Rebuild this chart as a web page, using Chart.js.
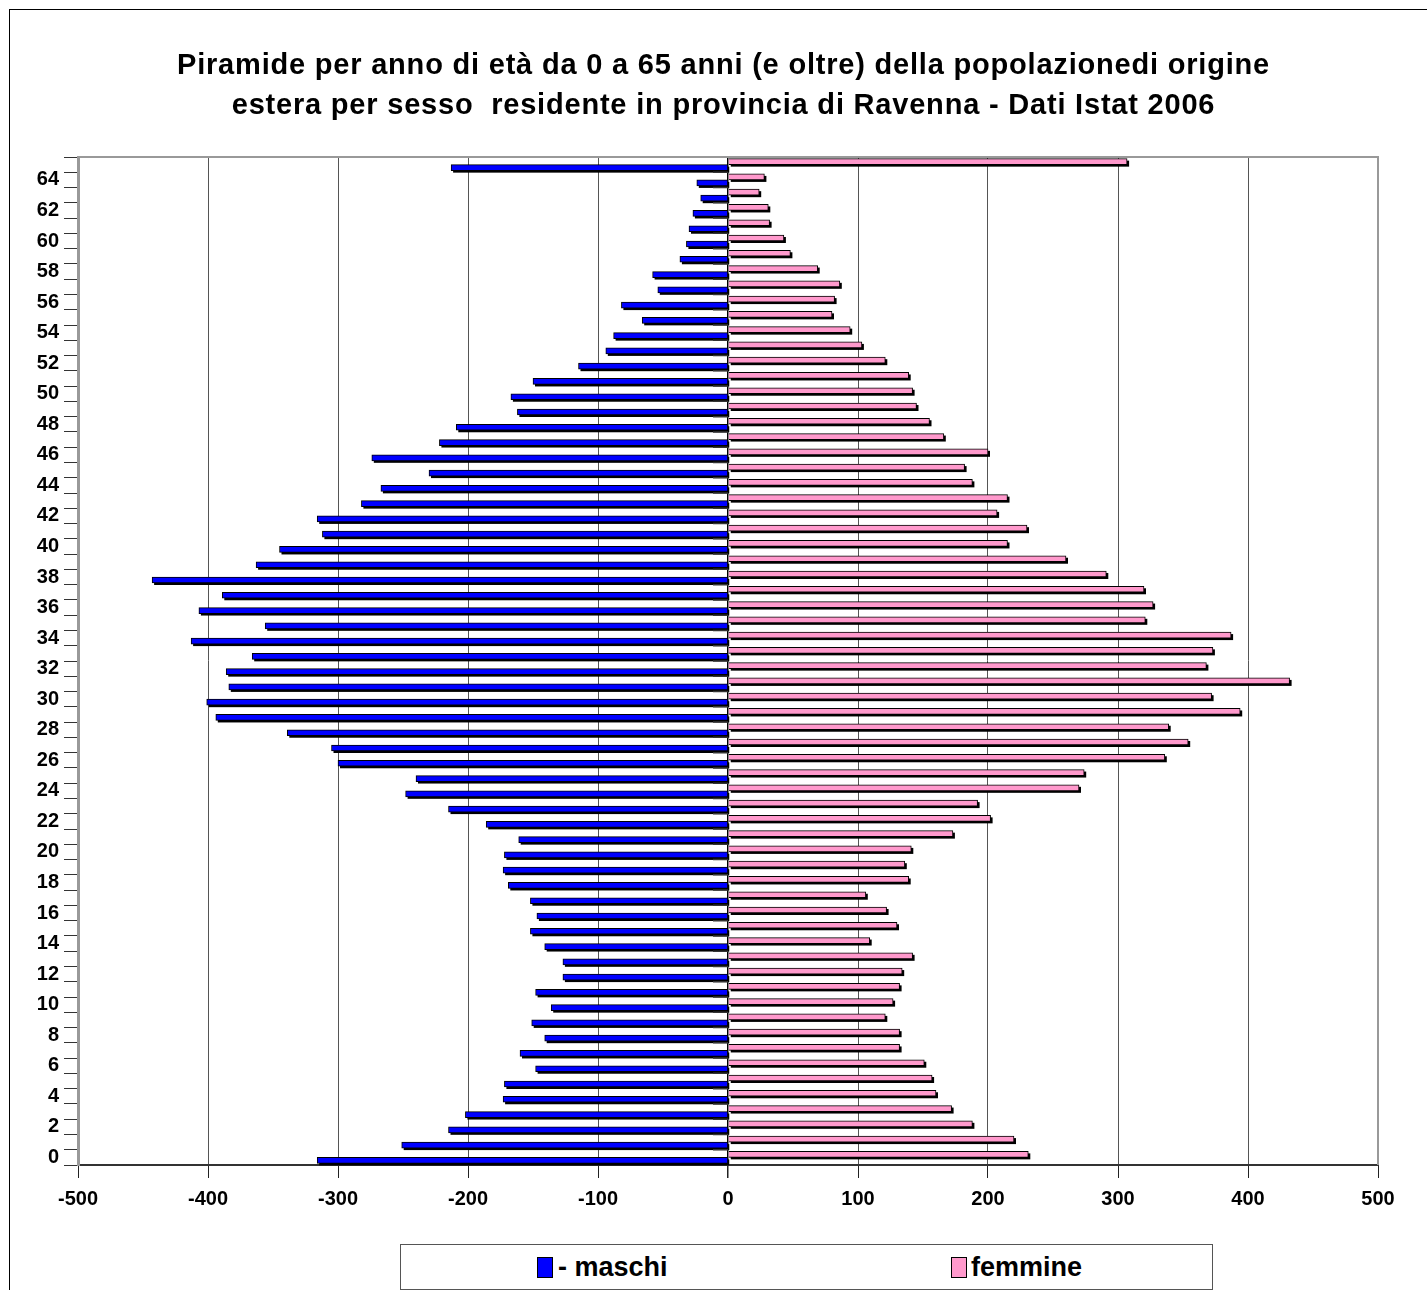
<!DOCTYPE html>
<html lang="it">
<head>
    <meta charset="UTF-8">
    <title>Piramide per età - Ravenna 2006</title>
    <script src="https://cdn.jsdelivr.net/npm/chart.js"></script>
    <style>
        body {
            margin: 0;
            background: #fff;
            font-family: Arial, "Liberation Sans", sans-serif;
        }
        .wrap {
            position: relative;
            width: 1427px;
            height: 1290px;
            overflow: hidden;
        }
        .frame {
            position: absolute;
            left: 9px;
            top: 9px;
            width: 1440px;
            height: 1300px;
            border: 1px solid #000;
        }
        canvas {
            position: absolute;
            left: 0;
            top: 0;
        }
        .legend {
            position: absolute;
            left: 400px;
            top: 1244px;
            width: 811px;
            height: 44px;
            border: 1px solid #555;
            background: #fff;
        }
        .legend .box {
            position: absolute;
            top: 12px;
            width: 14px;
            height: 19px;
            border: 1px solid #000;
        }
        .legend .txt {
            position: absolute;
            top: 0;
            line-height: 44px;
            font-size: 27px;
            font-weight: bold;
            color: #000;
        }
    </style>
</head>
<body>
    <div class="wrap">
        <div class="frame"></div>
        <canvas id="pyramid" width="1427" height="1290"></canvas>
        <div class="legend">
            <div class="box" style="left:136px; background:#0000ff"></div>
            <div class="txt" style="left:157px">- maschi</div>
            <div class="box" style="left:550px; background:#ff99cc"></div>
            <div class="txt" style="left:570px">femmine</div>
        </div>
    </div>

    <script>
        // eta' da 0 a 65 (65 = 65 anni e oltre)
        const ages = [];
        for (let a = 0; a <= 65; a++) ages.push(String(a));

        // stranieri residenti per sesso, un valore per ogni anno di eta'
        const maschi = [
            -316, -251, -215, -202, -173, -172, -148, -160, -141, -151,
            -136, -148, -127, -127, -141, -152, -147, -152, -169, -173,
            -172, -161, -186, -215, -248, -240, -300, -305, -339, -394,
            -401, -384, -386, -366, -413, -356, -407, -389, -443, -363,
            -345, -312, -316, -282, -267, -230, -274, -222, -209, -162,
            -167, -150, -115, -94, -88, -66, -82, -54, -58, -37,
            -32, -30, -27, -21, -24, -213
        ];
        const femmine = [
            231, 220, 188, 172, 160, 157, 151, 132, 132, 121,
            127, 132, 134, 142, 109, 130, 122, 106, 139, 136,
            141, 173, 202, 192, 270, 274, 336, 354, 339, 394,
            372, 432, 368, 373, 387, 321, 327, 320, 291, 260,
            215, 230, 207, 215, 188, 182, 200, 166, 155, 145,
            142, 139, 121, 103, 94, 80, 82, 86, 69, 48,
            43, 32, 31, 24, 28, 307
        ];

        const xTicks = [-500, -400, -300, -200, -100, 0, 100, 200, 300, 400, 500];

        const titleLines = [
            'Piramide per anno di età da 0 a 65 anni (e oltre) della popolazionedi origine',
            'estera per sesso  residente in provincia di Ravenna - Dati Istat 2006'
        ];

        const FONT = 'Arial, "Liberation Sans", sans-serif';

        // titolo su due righe, con un po' di spaziatura tra le lettere
        const wideTitle = {
            id: 'wideTitle',
            afterDraw(chart) {
                const ctx = chart.ctx;
                ctx.save();
                ctx.font = 'bold 29px ' + FONT;
                ctx.letterSpacing = '0.8px';
                ctx.fillStyle = '#000';
                ctx.textAlign = 'center';
                ctx.textBaseline = 'middle';
                const cx = chart.width / 2 + 10;
                titleLines.forEach((line, i) => ctx.fillText(line, cx, 66 + i * 40));
                ctx.restore();
            }
        };

        // ombra nera sotto ogni barra (effetto 3D)
        const barShadow = {
            id: 'barShadow',
            beforeDatasetsDraw(chart) {
                const ctx = chart.ctx;
                ctx.save();
                ctx.fillStyle = '#000';
                chart.getSortedVisibleDatasetMetas().forEach(meta => {
                    meta.data.forEach(bar => {
                        const p = bar.getProps(['x', 'y', 'base', 'height'], true);
                        const left = Math.min(p.x, p.base);
                        const right = Math.max(p.x, p.base);
                        ctx.fillRect(left + 2, p.y - p.height / 2 + 2, right - left, p.height);
                    });
                });
                ctx.restore();
            }
        };

        // bordo superiore/destro dell'area e tacche sull'asse dello zero
        const plotFrame = {
            id: 'plotFrame',
            afterDatasetsDraw(chart) {
                const ctx = chart.ctx;
                const area = chart.chartArea;
                const xs = chart.scales.x;
                const ys = chart.scales.y;
                ctx.save();
                ctx.strokeStyle = '#999';
                ctx.lineWidth = 2;
                ctx.beginPath();
                ctx.moveTo(area.left, area.top);
                ctx.lineTo(area.right, area.top);
                ctx.lineTo(area.right, area.bottom);
                ctx.stroke();

                const zero = xs.getPixelForValue(0);
                ctx.strokeStyle = '#333';
                ctx.lineWidth = 1.5;
                ctx.beginPath();
                for (let i = 0; i < ages.length - 1; i++) {
                    const yb = (ys.getPixelForValue(i) + ys.getPixelForValue(i + 1)) / 2;
                    ctx.moveTo(zero - 15, yb);
                    ctx.lineTo(zero, yb);
                }
                ctx.stroke();
                ctx.restore();
            }
        };

        new Chart(document.getElementById('pyramid'), {
            type: 'bar',
            data: {
                labels: ages,
                datasets: [
                    {
                        label: 'femmine',
                        data: femmine,
                        backgroundColor: '#ff99cc',
                        borderColor: '#000',
                        borderWidth: 1,
                        barThickness: 6
                    },
                    {
                        label: '- maschi',
                        data: maschi,
                        backgroundColor: '#0000ff',
                        borderColor: '#000',
                        borderWidth: 1,
                        barThickness: 6
                    }
                ]
            },
            options: {
                indexAxis: 'y',
                responsive: false,
                animation: false,
                layout: { padding: { left: 0, right: 49, top: 157, bottom: 0 } },
                plugins: {
                    legend: { display: false },
                    tooltip: { enabled: false },
                    title: { display: false }
                },
                scales: {
                    x: {
                        min: -500,
                        max: 500,
                        afterBuildTicks: scale => {
                            scale.ticks = xTicks.map(v => ({ value: v }));
                        },
                        afterFit: scale => { scale.height = 125; },
                        border: { color: '#333', width: 2 },
                        grid: {
                            color: ctx => ctx.tick && ctx.tick.value === 0 ? '#000' : '#555',
                            lineWidth: ctx => ctx.tick && ctx.tick.value === 0 ? 1.5 : 1,
                            tickColor: '#222',
                            tickLength: 13
                        },
                        ticks: {
                            color: '#000',
                            padding: 9,
                            font: { family: FONT, size: 20, weight: 'bold' }
                        }
                    },
                    y: {
                        reverse: true,
                        afterFit: scale => { scale.width = 78; },
                        border: { color: '#999', width: 3 },
                        grid: {
                            offset: true,
                            drawOnChartArea: false,
                            tickColor: '#333',
                            tickLength: 14
                        },
                        ticks: {
                            autoSkip: false,
                            color: '#000',
                            padding: 5,
                            font: { family: FONT, size: 20, weight: 'bold' },
                            callback: function (value, index) {
                                const label = this.getLabelForValue(value);
                                return Number(label) % 2 === 0 ? label : '';
                            }
                        }
                    }
                }
            },
            plugins: [barShadow, plotFrame, wideTitle]
        });
    </script>
</body>
</html>
